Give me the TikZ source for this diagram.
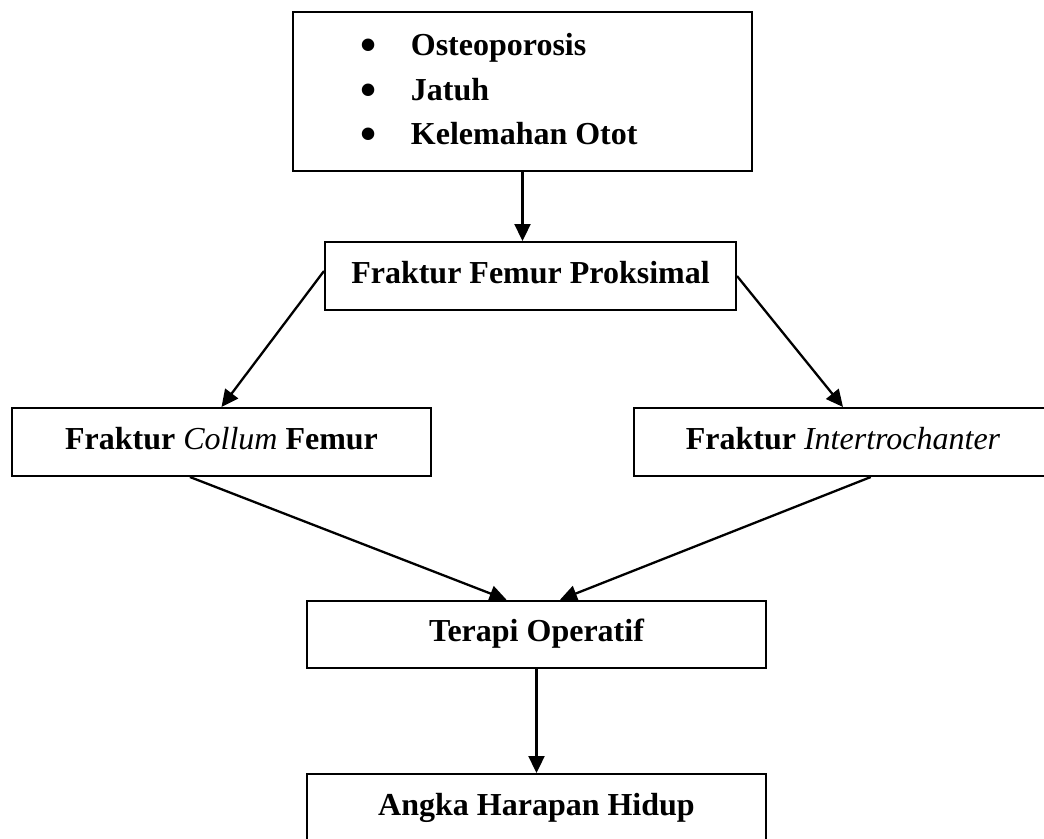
\documentclass[tikz,border=0pt]{standalone}
\usepackage{fontspec}
\setmainfont{Liberation Serif}
\usetikzlibrary{arrows.meta,calc}
\begin{document}
\begin{tikzpicture}[x=1pt,y=-1pt,
  txt/.style={font=\fontsize{32}{44}\selectfont\bfseries},
  box/.style={txt, draw, line width=2pt, rectangle, inner sep=0pt, text height=22pt, text depth=8pt},
  arr/.style={line width=2.3pt, -{Triangle[length=17pt,width=16pt]}},
  listtxt/.style={txt, inner sep=0pt, anchor=base west},
  bul/.style={font=\fontsize{46}{46}\selectfont\bfseries, inner sep=0pt, anchor=base}]
\useasboundingbox (0,0) rectangle (1044,838);
% boxes
\node[box, minimum width=459pt, minimum height=159pt] (causes) at (522.5,91.5) {};
\node[box, minimum width=411pt, minimum height=68pt] (fem) at (530.5,276) {Fraktur Femur Proksimal};
\node[box, minimum width=419pt, minimum height=68pt] (col) at (221.5,442) {Fraktur {\mdseries\itshape Collum} Femur};
\node[box, minimum width=419pt, minimum height=68pt] (inter) at (843,442) {Fraktur {\mdseries\itshape Intertrochanter}};
\node[box, minimum width=459pt, minimum height=67.5pt] (ter) at (536.5,634.5) {Terapi Operatif};
\node[box, minimum width=459pt, minimum height=68pt] (angka) at (536.5,808) {Angka Harapan Hidup};
% bulleted list
\node[bul] (b1) at (369,60) {•};
\node[bul] (b2) at (369,105) {•};
\node[bul] (b3) at (369,149) {•};
\node[listtxt] (t1) at (410.7,55) {Osteoporosis};
\node[listtxt] (t2) at (410.7,100) {Jatuh};
\node[listtxt] (t3) at (410.7,144) {Kelemahan Otot};
% connectors
\draw[arr] (causes.south) -- (causes.south |- fem.north);
\draw[arr] ($(fem.west)+(0,-5)$) -- (col.north);
\draw[arr] (fem.east) -- (inter.north);
\draw[arr] ($(col.south west)!0.425!(col.south east)$) -- ($(ter.north west)!0.435!(ter.north east)$);
\draw[arr] ($(inter.south west)!0.566!(inter.south east)$) -- ($(ter.north west)!0.551!(ter.north east)$);
\draw[arr] (ter.south) -- (angka.north);
\end{tikzpicture}
\end{document}
